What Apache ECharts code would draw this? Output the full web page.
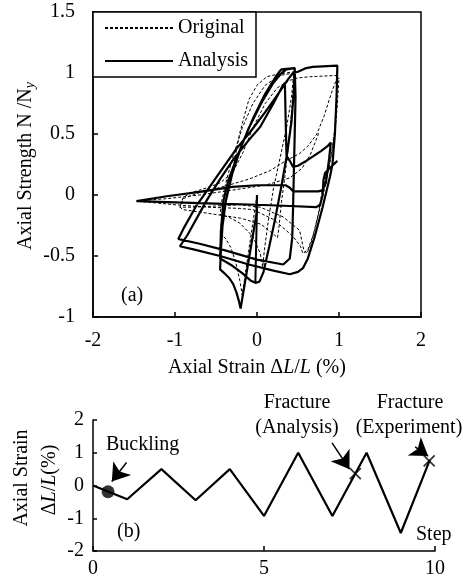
<!DOCTYPE html>
<html><head><meta charset="utf-8">
<script src="https://cdn.jsdelivr.net/npm/echarts@6/dist/echarts.min.js"></script>
<style>html,body{margin:0;padding:0;background:#fff}#c{width:468px;height:584px}</style>
</head><body><div id="c"></div>
<script>
// ---------- Panel (a): hysteresis, [strain %, N/Ny] ----------
const analysisCycle0 = [[0,0],[-0.005,-0.15],[-0.2,-0.93],[-0.22,-0.87],[-0.25,-0.8],[-0.29,-0.73],[-0.34,-0.68],[-0.4,-0.64],[-0.45,-0.61]];
const analysisCycle1 = [[-0.45,-0.61],[-0.44,-0.45],[-0.42,-0.25],[-0.38,-0.05],[-0.3,0.18],[-0.18,0.42],[-0.04,0.64],[0.1,0.83],[0.22,0.96],[0.27,1.01],[0.3,1.03],[0.46,1.04]];
const analysisCycle2 = [[0.46,1.04],[0.45,0.85],[0.42,0.6],[0.37,0.35],[0.3,0.08],[0.22,-0.2],[0.15,-0.42],[0.08,-0.63],[0.03,-0.71],[-0.02,-0.72],[-0.08,-0.7],[-0.18,-0.64],[-0.3,-0.58],[-0.45,-0.52]];
const analysisCycle3 = [[-0.45,-0.52],[-0.44,-0.3],[-0.41,-0.05],[-0.35,0.12],[-0.25,0.3],[-0.1,0.55],[0.05,0.75],[0.2,0.92],[0.3,1.0],[0.36,1.03],[0.46,1.04]];
const analysisCycle4 = [[0.46,1.04],[0.47,0.8],[0.46,0.5],[0.45,0.2],[0.44,-0.1],[0.43,-0.35],[0.4,-0.52],[0.32,-0.57],[0.0,-0.53],[-0.41,-0.45],[-0.7,-0.4],[-0.9,-0.37],[-0.96,-0.36]];
const analysisCycle5 = [[-0.96,-0.36],[-0.9,-0.28],[-0.75,-0.1],[-0.49,0.15],[-0.25,0.38],[-0.09,0.51],[0.1,0.68],[0.25,0.82],[0.38,0.95],[0.44,1.0],[0.5,1.01],[0.6,1.04],[0.68,1.05],[0.98,1.06]];
const analysisCycle6 = [[0.98,1.06],[0.97,0.8],[0.95,0.5],[0.92,0.25],[0.89,0.15],[0.8,-0.1],[0.7,-0.35],[0.62,-0.52],[0.56,-0.6],[0.5,-0.63],[0.4,-0.65],[0.2,-0.62],[-0.1,-0.57],[-0.45,-0.5],[-0.75,-0.45],[-0.94,-0.42]];
const analysisCycle7 = [[-0.94,-0.42],[-0.85,-0.33],[-0.61,-0.04],[-0.45,0.13],[-0.29,0.29],[-0.1,0.45],[0.04,0.56],[0.2,0.75],[0.3,0.88],[0.34,0.92],[0.35,0.6],[0.36,0.32],[0.4,0.28],[0.44,0.23],[0.5,0.24],[0.6,0.28],[0.78,0.36],[0.86,0.4],[0.9,0.43]];
const analysisCycle8 = [[0.9,0.43],[0.88,0.3],[0.84,0.1],[0.8,0.04],[0.75,0.03],[0.5,0.03],[0.44,0.03],[0.4,0.06],[0.35,0.08],[0.16,0.08],[0.0,0.08],[-0.3,0.066],[-0.7,0.025],[-1.1,-0.01],[-1.47,-0.05]];
const analysisCycle9 = [[-1.47,-0.05],[-1.0,-0.06],[-0.5,-0.07],[0.0,-0.08],[0.4,-0.09],[0.72,-0.1],[0.77,-0.08],[0.8,0.0],[0.81,0.12],[0.83,0.18],[0.9,0.23],[0.98,0.28]];
const analysisSpur = [[0,-0.1],[-0.01,-0.4],[-0.02,-0.72]];

const originalCycle0 = [[0,0],[-0.1,-0.45],[-0.18,-0.82],[-0.21,-0.7],[-0.26,-0.55],[-0.32,-0.43],[-0.38,-0.36],[-0.45,-0.31]];
const originalCycle1 = [[-0.45,-0.31],[-0.42,-0.15],[-0.37,0.0],[-0.29,0.23],[-0.21,0.51],[-0.1,0.78],[0.0,0.9],[0.12,0.97],[0.25,0.99],[0.45,1.01]];
const originalCycle2 = [[0.45,1.01],[0.42,0.8],[0.36,0.55],[0.28,0.3],[0.2,0.05],[0.13,-0.25],[0.09,-0.45],[0.07,-0.59],[0.04,-0.48],[-0.05,-0.34],[-0.21,-0.23],[-0.35,-0.18],[-0.45,-0.16]];
const originalCycle3 = [[-0.45,-0.16],[-0.43,-0.05],[-0.38,0.1],[-0.3,0.3],[-0.18,0.55],[-0.05,0.75],[0.1,0.9],[0.28,0.98],[0.45,1.0]];
const originalCycle4 = [[0.45,1.0],[0.43,0.75],[0.39,0.45],[0.34,0.15],[0.3,-0.05],[0.27,-0.25],[0.25,-0.35],[0.2,-0.32],[0.05,-0.24],[-0.2,-0.19],[-0.5,-0.16],[-0.8,-0.13],[-0.9,-0.12],[-0.94,-0.1]];
const originalCycle5 = [[-0.94,-0.1],[-0.9,-0.02],[-0.8,0.02],[-0.6,0.06],[-0.45,0.1],[-0.3,0.18],[-0.17,0.35],[-0.05,0.55],[0.1,0.75],[0.25,0.88],[0.4,0.94],[0.5,0.96],[0.65,0.97],[0.98,0.98]];
const originalCycle6 = [[0.98,0.98],[0.97,0.8],[0.95,0.55],[0.91,0.35],[0.86,0.2],[0.8,0.05],[0.75,-0.15],[0.67,-0.37],[0.61,-0.48],[0.57,-0.45],[0.52,-0.29],[0.32,-0.18],[0.04,-0.1],[-0.21,-0.08],[-0.5,-0.09],[-0.8,-0.1],[-0.94,-0.1]];
const originalCycle7 = [[-0.94,-0.1],[-0.9,-0.03],[-0.7,0.02],[-0.4,0.07],[-0.1,0.13],[0.16,0.2],[0.35,0.28],[0.52,0.34],[0.62,0.4],[0.73,0.5],[0.82,0.65],[0.88,0.78],[0.92,0.86],[0.96,0.93],[1.0,0.96]];
const originalCycle8 = [[1.0,0.96],[0.98,0.75],[0.95,0.5],[0.9,0.3],[0.84,0.1],[0.78,-0.07],[0.7,-0.3],[0.62,-0.45],[0.56,-0.48],[0.53,-0.42],[0.44,-0.34],[0.2,-0.2],[-0.05,-0.12],[-0.21,-0.11],[-0.6,-0.1],[-1.0,-0.08],[-1.46,-0.05]];
const originalCycle9 = [[-1.46,-0.05],[-1.1,-0.03],[-0.7,0.0],[-0.3,0.04],[0.1,0.08],[0.4,0.14],[0.55,0.22],[0.65,0.33],[0.72,0.45],[0.76,0.52]];

// ---------- Panel (b): loading history ----------
const steps   = [0, 1, 2, 3, 4, 5, 6, 7, 8, 9, 9.85];
const strains = [0, -0.42, 0.5, -0.45, 0.5, -0.93, 1.0, -0.93, 1.0, -1.45, 0.78];
const bucklingPoint = [0.44, -0.19];
const fracturePoints = [[7.67, 0.36], [9.83, 0.75]];
const arrowBuckling = [[0.98, 0.7], [0.55, 0.12]];
const arrowFracA = [[6.99, 1.3], [7.5, 0.5]];
const arrowFracE = [[9.42, 1.18], [9.8, 0.9]];

const FONT = 'Liberation Serif';
const join = (...arrs) => arrs.reduce((acc, a, i) => i === 0 ? a.slice() : acc.concat(a.slice(1)), []);
const analysisPath = join(analysisCycle0, analysisCycle1, analysisCycle2, analysisCycle3, analysisCycle4, analysisCycle5, analysisCycle6, analysisCycle7, analysisCycle8, analysisCycle9);
const originalPath = join(originalCycle0, originalCycle1, originalCycle2, originalCycle3, originalCycle4, originalCycle5, originalCycle6, originalCycle7, originalCycle8, originalCycle9);

const chart = echarts.init(document.getElementById('c'), null, {renderer: 'canvas'});
const axisLine = {onZero: false, lineStyle: {color: '#000', width: 1.5}};
const tick = (len) => ({inside: true, length: len, lineStyle: {color: '#000', width: 1.5}});
const label = (m, fs) => ({margin: m, color: '#000', fontSize: fs, fontFamily: FONT});
const txt = (x, y, text, align) => ({type: 'text', x: x, y: y, style: {text: text, fill: '#000', font: '20px "' + FONT + '"', align: align || 'center', verticalAlign: 'middle'}});

const option = {
  animation: false,
  backgroundColor: '#fff',
  grid: [
    {left: 93, top: 12, width: 328, height: 305, show: true, borderColor: '#000', borderWidth: 1.5, backgroundColor: 'transparent'},
    {left: 93, top: 420, width: 342, height: 131}
  ],
  xAxis: [
    {gridIndex: 0, type: 'value', min: -2, max: 2, interval: 1, axisLine: axisLine, axisTick: tick(5), axisLabel: label(14, 20), splitLine: {show: false}},
    {gridIndex: 1, type: 'value', min: 0, max: 10, interval: 5, axisLine: axisLine, axisTick: tick(5), axisLabel: label(8, 20), splitLine: {show: false}}
  ],
  yAxis: [
    {gridIndex: 0, type: 'value', min: -1, max: 1.5, interval: 0.5, axisLine: axisLine, axisTick: tick(5), axisLabel: label(18, 20), splitLine: {show: false}},
    {gridIndex: 1, type: 'value', min: -2, max: 2, interval: 1, axisLine: axisLine, axisTick: tick(4), axisLabel: label(9, 20), splitLine: {show: false}}
  ],
  legend: {
    data: ['Original', 'Analysis'], left: 93, top: 12, orient: 'vertical',
    padding: [6, 8, 6, 11], itemGap: 13, itemWidth: 68, itemHeight: 14,
    borderColor: '#000', borderWidth: 1.5, backgroundColor: '#fff', borderRadius: 0,
    itemStyle: {opacity: 0},
    textStyle: {color: '#000', fontSize: 20, fontFamily: FONT}, z: 10
  },
  series: [
    {name: 'Original', type: 'line', xAxisIndex: 0, yAxisIndex: 0, data: originalPath, showSymbol: false, symbol: 'none',
     lineStyle: {color: '#000', width: 1, type: [3, 2]}, itemStyle: {color: '#000'}},
    {name: 'Analysis', type: 'line', xAxisIndex: 0, yAxisIndex: 0, data: analysisPath, showSymbol: false, symbol: 'none',
     lineStyle: {color: '#000', width: 2.2}, itemStyle: {color: '#000'}},
    {name: 'Analysis', type: 'line', xAxisIndex: 0, yAxisIndex: 0, data: analysisSpur, showSymbol: false, symbol: 'none',
     lineStyle: {color: '#000', width: 2}, itemStyle: {color: '#000'}},
    {name: 'history', type: 'line', xAxisIndex: 1, yAxisIndex: 1, data: steps.map((s, i) => [s, strains[i]]), symbol: 'none',
     lineStyle: {color: '#000', width: 2.2}},
    {name: 'buckling', type: 'scatter', xAxisIndex: 1, yAxisIndex: 1, data: [bucklingPoint], symbol: 'circle', symbolSize: 13,
     itemStyle: {color: '#000'}, z: 5},
    {name: 'fracture', type: 'scatter', xAxisIndex: 1, yAxisIndex: 1, data: fracturePoints,
     symbol: 'path://M0,0L10,10M10,0L0,10', symbolSize: 11, itemStyle: {color: 'none', borderColor: '#000', borderWidth: 1.8}, z: 5},
    {name: 'arrows', type: 'lines', coordinateSystem: 'cartesian2d', xAxisIndex: 1, yAxisIndex: 1,
     data: [{coords: arrowBuckling}, {coords: arrowFracA}, {coords: arrowFracE}],
     symbol: ['none', 'arrow'], symbolSize: [0, 17], lineStyle: {color: '#000', width: 1.5, opacity: 1}, z: 6}
  ],
  graphic: [
    {type: 'text', x: 257, y: 368, style: {text: 'Axial Strain Δ{i|L}/{i|L} (%)', rich: {i: {fontStyle: 'italic', fontSize: 20, fontFamily: FONT}}, fill: '#000', font: '20px "' + FONT + '"', align: 'center', verticalAlign: 'middle'}},
    {type: 'text', x: 26, y: 166, rotation: Math.PI / 2, style: {text: 'Axial Strength N /N{s|y}', rich: {s: {fontStyle: 'italic', fontSize: 14, fontFamily: FONT, padding: [8, 0, 0, 0]}}, fill: '#000', font: '20px "' + FONT + '"', align: 'center', verticalAlign: 'middle'}},
    txt(121, 296, '(a)', 'left'),
    {type: 'text', x: 22, y: 478, rotation: Math.PI / 2, style: {text: 'Axial Strain', fill: '#000', font: '20px "' + FONT + '"', align: 'center', verticalAlign: 'middle'}},
    {type: 'text', x: 50, y: 480, rotation: Math.PI / 2, style: {text: 'Δ{i|L}/{i|L}(%)', rich: {i: {fontStyle: 'italic', fontSize: 20, fontFamily: FONT}}, fill: '#000', font: '20px "' + FONT + '"', align: 'center', verticalAlign: 'middle'}},
    txt(106, 445, 'Buckling', 'left'),
    txt(297, 403, 'Fracture'),
    txt(297, 428, '(Analysis)'),
    txt(410, 403, 'Fracture'),
    txt(409, 428, '(Experiment)'),
    txt(117, 532, '(b)', 'left'),
    txt(416, 535, 'Step', 'left')
  ]
};
chart.setOption(option);
</script></body></html>
